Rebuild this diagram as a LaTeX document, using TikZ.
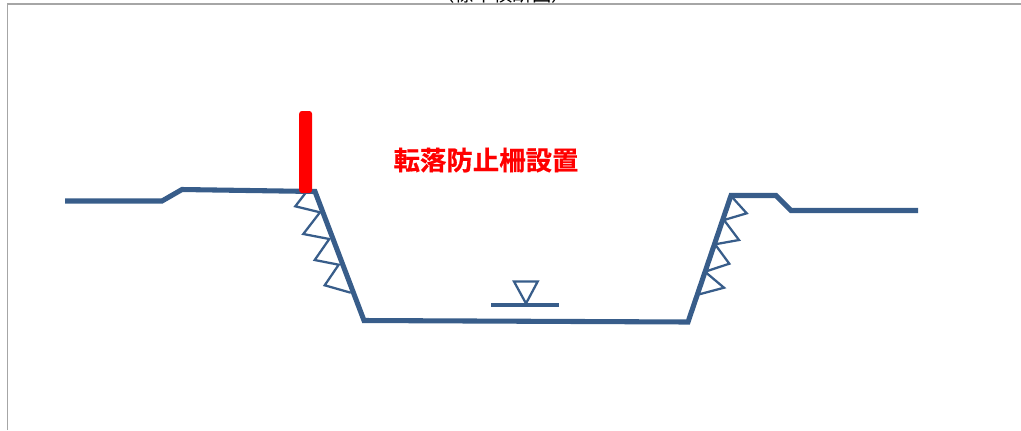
\documentclass[tikz,border=0pt]{standalone}
\usepackage{fontspec}
\newfontfamily\cjk{Noto Sans CJK JP}
\newfontfamily\cjkb[FakeBold=0.6]{Noto Sans CJK JP Bold}
\definecolor{bankblue}{HTML}{385D8A}
\definecolor{framegray}{HTML}{A6A6A6}
\tikzset{
  x=0.75pt,y=-0.75pt,
  bank/.style={draw=bankblue,line width=3.8pt,line join=miter},
  zigzag/.style={draw=bankblue,line width=1.7pt,line join=miter},
  frameline/.style={draw=framegray,line width=0.8pt},
  fence/.style={fill=red,draw=none,rounded corners=2pt,minimum width=9.6pt,minimum height=61.5pt,inner sep=0pt},
  warn/.style={text=red,font=\cjkb\fontsize{19.8}{22}\selectfont,inner sep=0pt},
  clipped/.style={text=black,font=\cjk\fontsize{14.5}{16}\selectfont,inner sep=0pt}
}
\begin{document}
\begin{tikzpicture}
\useasboundingbox (0,0) rectangle (1021,430);
\begin{scope}
\clip (0,0) rectangle (1021,4);
\node[clipped] (title) at (503,-6) {（標準横断図）};
\end{scope}
\coordinate (fa) at (7.5,430);
\coordinate (fb) at (7.5,4);
\coordinate (fc) at (1021,4);
\draw[frameline] (fa) -- (fb) -- (fc);
\coordinate (b1) at (65,201);
\coordinate (b2) at (162,201);
\coordinate (b3) at (182,189.5);
\coordinate (b4) at (315,191.5);
\coordinate (b5) at (364,320.5);
\coordinate (b6) at (688,322);
\coordinate (b7) at (731,195.5);
\coordinate (b8) at (776,195.5);
\coordinate (b9) at (791,210.5);
\coordinate (b10) at (918,210.5);
\draw[zigzag] (305.3,193.3) -- (295.3,206.3) -- (320,212.3) -- (303.3,234) -- (329.3,239) -- (314.7,260) -- (338.7,264.7) -- (324.7,285.3) -- (350.7,292.7);
\draw[zigzag] (731.7,196.7) -- (746.7,213.3) -- (724,220) -- (739,240) -- (715,244.3) -- (729.3,263.7) -- (705,271.7) -- (724,287.7) -- (699.3,294.3);
\draw[bank] (b1) -- (b2) -- (b3) -- (b4) -- (b5) -- (b6) -- (b7) -- (b8) -- (b9) -- (b10);
\coordinate (t1) at (514,281.5);
\coordinate (t2) at (537.7,281.5);
\coordinate (t3) at (526,303.5);
\coordinate (w1) at (491,305);
\coordinate (w2) at (559,305);
\draw[zigzag] (t1) -- (t2) -- (t3) -- cycle;
\draw[bank,line width=2.3pt] (w1) -- (w2);
\node[fence] (post) at (305.6,152) {};
\node[warn] (label) at (486,160) {転落防止柵設置};
\end{tikzpicture}
\end{document}
